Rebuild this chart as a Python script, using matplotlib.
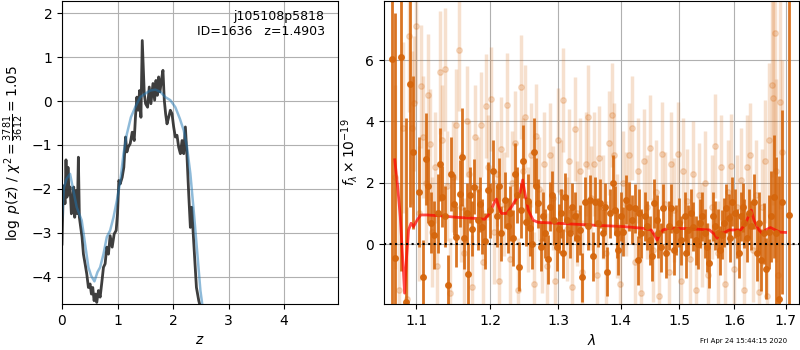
import numpy as np
import matplotlib
matplotlib.use('Agg')
import matplotlib.pyplot as plt

# --- p(z) panel ---
z_pz = [0.000, 0.018, 0.036, 0.054, 0.072, 0.090, 0.108, 0.127, 0.145, 0.169,
        0.193, 0.211, 0.229, 0.253, 0.277, 0.295, 0.313, 0.337, 0.361, 0.386,
        0.416, 0.446, 0.476, 0.506, 0.530, 0.554, 0.578, 0.602, 0.626, 0.657,
        0.687, 0.717, 0.747, 0.777, 0.807, 0.837, 0.867, 0.904, 0.940, 0.976,
        1.000, 1.024, 1.048, 1.084, 1.114, 1.145, 1.169, 1.193, 1.229, 1.265,
        1.301, 1.325, 1.349, 1.373, 1.398, 1.422, 1.446, 1.482, 1.506, 1.542,
        1.572, 1.602, 1.639, 1.669, 1.693, 1.717, 1.741, 1.765, 1.795, 1.819,
        1.843, 1.867, 1.892, 1.922, 1.952, 1.982, 2.012, 2.042, 2.072, 2.102,
        2.133, 2.163, 2.193, 2.223, 2.253, 2.283, 2.313, 2.337, 2.361, 2.386,
        2.422, 2.464, 2.494, 2.524]
logp = [-3.26, -2.27, -1.93, -2.34, -1.34, -2.19, -1.51, -2.12, -1.96, -2.57,
        -2.27, -1.96, -2.65, -2.04, -2.57, -1.28, -2.65, -2.88, -3.10, -3.49,
        -3.71, -3.94, -4.25, -4.17, -4.40, -4.25, -4.55, -4.40, -4.59, -4.32,
        -4.47, -4.14, -3.79, -3.71, -3.33, -3.49, -3.07, -3.33, -3.03, -2.95,
        -2.57, -1.81, -1.89, -1.74, -1.51, -0.82, -1.16, -1.05, -0.97, -0.71,
        -0.90, -0.33, 0.09, -0.21, 0.24, -0.37, 1.38, 0.17, -0.06, -0.14,
        0.32, -0.06, 0.40, 0.02, 0.47, 0.13, 0.55, 0.21, 0.51, 0.70,
        0.02, -0.29, -0.52, -0.37, -0.21, -0.29, -0.59, -0.82, -0.78, -1.05,
        -1.20, -0.90, -1.20, -0.59, -1.28, -2.12, -2.88, -2.42, -2.95, -3.49,
        -4.25, -4.55, -4.70, -4.90]

z_smooth = [0.000, 0.036, 0.084, 0.145, 0.205, 0.265, 0.355, 0.416, 0.476, 0.524,
            0.584, 0.639, 0.687, 0.747, 0.807, 0.867, 0.928, 0.988, 1.048, 1.108,
            1.169, 1.241, 1.319, 1.410, 1.500, 1.590, 1.681, 1.771, 1.861, 1.952,
            2.042, 2.123, 2.193, 2.253, 2.313, 2.373, 2.434, 2.494, 2.542]
logp_smooth = [-2.65, -1.96, -1.77, -1.66, -2.04, -2.42, -2.72, -3.26, -3.79, -3.98,
               -4.11, -3.90, -3.79, -3.49, -3.10, -2.95, -2.65, -2.27, -1.85, -1.20,
               -0.75, -0.37, -0.14, 0.09, 0.17, 0.24, 0.26, 0.21, 0.09, 0.02,
               -0.14, -0.40, -0.67, -1.05, -1.66, -2.50, -3.41, -4.32, -4.78]

chi2_num, chi2_den, chi2_red = 3781, 3612, 1.05
root, obj_id, z_best = 'j105108p5818', 1636, 1.4903

# --- spectrum panel ---
# dark points: (wavelength micron, flux, error)
wave_a = [1.069, 1.073, 1.080, 1.086, 1.092, 1.095, 1.104, 1.108, 1.112, 1.119,
          1.128, 1.134, 1.142, 1.146, 1.153, 1.158, 1.161, 1.167, 1.169, 1.175,
          1.178, 1.183, 1.188, 1.197, 1.204, 1.209, 1.216, 1.221, 1.228, 1.233,
          1.236, 1.241, 1.245, 1.248, 1.252, 1.257, 1.264, 1.270, 1.274, 1.280,
          1.287, 1.294, 1.299, 1.305, 1.311, 1.318, 1.326, 1.334, 1.337, 1.342,
          1.350, 1.358, 1.366, 1.371, 1.377, 1.382, 1.387, 1.393, 1.400, 1.409,
          1.414, 1.423, 1.428, 1.434, 1.441, 1.448, 1.456, 1.463, 1.471, 1.477,
          1.486, 1.494, 1.503, 1.509, 1.516, 1.524, 1.530, 1.537, 1.545, 1.554,
          1.560, 1.569, 1.578, 1.584, 1.590, 1.596, 1.606, 1.612, 1.619, 1.628,
          1.638, 1.644, 1.651, 1.657, 1.667, 1.676, 1.680, 1.686, 1.692, 1.706,
          1.115, 1.123, 1.131, 1.138, 1.150, 1.164, 1.172, 1.186, 1.192, 1.200,
          1.212, 1.225, 1.238, 1.254, 1.261, 1.267, 1.277, 1.284, 1.291, 1.302,
          1.308, 1.314, 1.322, 1.330, 1.346, 1.354, 1.362, 1.374, 1.390, 1.396,
          1.404, 1.418, 1.431, 1.444, 1.452, 1.460, 1.467, 1.481, 1.490, 1.499,
          1.512, 1.520, 1.534, 1.541, 1.549, 1.564, 1.573, 1.581, 1.593, 1.602,
          1.609, 1.616, 1.624, 1.633, 1.647, 1.662, 1.671]
flux_a = [6.03, -0.45, 6.12, -1.90, 5.22, 3.00, 1.70, -1.07, 2.77, 0.70,
          1.00, 1.55, -1.34, 2.29, 0.24, 1.65, 2.85, 1.00, -0.98, 0.50,
          1.87, 0.80, 0.57, 1.77, 2.40, 0.90, 0.35, 1.44, 1.00, 0.20,
          2.30, -0.74, 1.10, 2.70, 0.73, 0.51, 3.00, 1.33, -0.09, 0.35,
          1.22, 0.78, -0.09, 1.00, 1.53, 0.35, 0.90, 0.46, -1.09, 1.38,
          1.44, 1.38, 1.33, 0.35, -0.90, 1.00, 2.00, 0.35, 0.90, 1.44,
          1.22, 1.17, -0.52, 0.35, 0.90, 0.13, 1.33, 0.35, 1.17, -0.30,
          1.17, 0.46, 0.13, 0.90, 0.46, 0.57, 0.13, 0.68, 0.35, -0.63,
          0.90, 0.35, 0.30, 1.17, 0.84, 1.38, 0.35, 0.90, 0.68, 1.00,
          1.38, -0.30, -0.52, 0.35, 0.40, 1.55, 0.35, -1.78, 1.38, 0.94,
          1.9, 0.3, 2.6, 0.9, 1.3, 0.2, 1.6, 1.3, 0.1, 1.1,
          1.9, 0.6, 1.6, 1.4, 0.0, 1.9, 0.9, -0.5, 1.6, 0.5,
          -0.3, 0.8, 1.2, 0.2, 0.6, -0.4, 0.7, 1.2, 1.1, -0.2,
          0.4, 0.8, 1.0, 0.6, -0.4, 0.8, -0.1, 0.6, -0.2, 0.7,
          -0.3, 1.0, 0.0, 0.9, -0.1, 0.6, -0.2, 0.7, 0.2, 1.0,
          -0.3, 1.2, 0.2, 0.6, 0.7, -0.8, 0.9]
err_a = [8.0, 8.0, 7.0, 6.0, 4.0, 2.5, 1.8, 1.2, 1.5, 1.0,
         1.3, 1.0, 1.0, 1.2, 1.0, 1.1, 1.6, 1.0, 1.0, 0.9,
         0.9, 1.0, 0.9, 0.9, 1.0, 1.0, 0.9, 0.9, 0.9, 0.9,
         1.0, 0.8, 0.9, 1.2, 0.8, 0.9, 1.1, 0.8, 0.8, 0.8,
         0.8, 0.8, 0.8, 0.8, 0.8, 0.8, 0.8, 0.8, 0.8, 0.8,
         0.8, 0.8, 0.8, 0.8, 0.8, 0.8, 0.9, 0.8, 0.8, 0.8,
         0.8, 0.8, 0.8, 0.8, 0.8, 0.8, 0.8, 0.8, 0.8, 0.8,
         0.8, 0.8, 0.8, 0.8, 0.8, 0.8, 0.8, 0.8, 0.8, 0.8,
         0.8, 0.8, 0.8, 0.8, 0.8, 0.8, 0.8, 0.8, 0.8, 0.8,
         0.9, 0.9, 1.0, 1.0, 1.2, 2.0, 2.5, 4.0, 3.0, 9.0,
         1.2, 1.1, 1.2, 1.0, 1.0, 1.0, 0.9, 0.9, 0.9, 0.9,
         0.9, 0.9, 0.9, 0.9, 0.8, 0.9, 0.8, 0.8, 0.8, 0.8,
         0.8, 0.8, 0.8, 0.8, 0.8, 0.8, 0.8, 0.8, 0.8, 0.8,
         0.8, 0.8, 0.8, 0.8, 0.8, 0.8, 0.8, 0.8, 0.8, 0.8,
         0.8, 0.8, 0.8, 0.8, 0.8, 0.8, 0.8, 0.8, 0.8, 0.8,
         0.8, 0.8, 0.8, 0.8, 1.0, 1.0, 1.5]

# light points: second beam
wave_b = [1.072, 1.078, 1.083, 1.088, 1.091, 1.094, 1.097, 1.100, 1.103, 1.106,
          1.109, 1.112, 1.115, 1.118, 1.121, 1.124, 1.127, 1.131, 1.134, 1.138,
          1.141, 1.145, 1.149, 1.153, 1.157, 1.160, 1.164, 1.168, 1.171, 1.175,
          1.179, 1.183, 1.187, 1.190, 1.194, 1.197, 1.201, 1.205, 1.209, 1.213,
          1.216, 1.220, 1.224, 1.228, 1.232, 1.236, 1.240, 1.244, 1.247, 1.251,
          1.255, 1.259, 1.263, 1.267, 1.271, 1.275, 1.279, 1.283, 1.287, 1.292,
          1.296, 1.300, 1.304, 1.308, 1.313, 1.317, 1.321, 1.326, 1.330, 1.334,
          1.338, 1.343, 1.347, 1.352, 1.356, 1.361, 1.365, 1.370, 1.375, 1.380,
          1.385, 1.389, 1.394, 1.399, 1.404, 1.409, 1.414, 1.419, 1.424, 1.429,
          1.434, 1.439, 1.444, 1.449, 1.454, 1.459, 1.465, 1.470, 1.475, 1.481,
          1.486, 1.491, 1.497, 1.502, 1.507, 1.513, 1.518, 1.524, 1.530, 1.535,
          1.541, 1.546, 1.552, 1.558, 1.564, 1.570, 1.576, 1.582, 1.588, 1.594,
          1.600, 1.606, 1.612, 1.618, 1.624, 1.630, 1.636, 1.642, 1.648, 1.654,
          1.660, 1.664, 1.668, 1.672, 1.675, 1.678, 1.681, 1.684, 1.688, 1.692]
flux_b = [2.2, -1.5, 3.8, -1.8, 6.8, 3.8, 4.6, 7.1, 1.0, 5.15,
          3.5, 2.0, 4.87, 3.25, 0.4, 2.5, -0.7, 5.6, 3.4, 5.7,
          1.9, -1.6, 2.2, 3.9, 6.34, 1.2, -0.3, 4.0, 2.3, -1.4,
          3.5, 1.8, 3.9, -0.6, 4.5, 2.5, 4.73, 0.4, 2.3, -1.2,
          3.1, 1.3, 4.53, -0.5, 2.0, 3.3, -1.5, 5.12, 2.4, 4.14,
          0.8, 2.9, -1.3, 3.53, 1.8, 0.1, 2.6, -0.7, 2.9, 1.5,
          -1.2, 3.4, 1.7, 4.7, 0.5, 2.7, -1.4, 3.75, 1.0, 2.4,
          -0.9, 2.6, 4.14, 1.5, 2.6, -1.0, 2.8, 1.2, -0.3, 3.3,
          4.2, 2.9, 0.6, -1.3, 2.0, 1.3, 2.9, 3.78, -0.6, 2.4,
          -1.6, 2.7, 1.2, 3.15, -0.2, 1.7, -1.7, 2.94, 1.3, -0.9,
          2.6, 1.1, 2.95, -1.2, 2.4, 1.4, -0.5, 2.3, -1.5, 1.6,
          0.3, 2.0, -1.0, 1.2, 3.2, -0.3, 2.5, -1.3, 1.7, 2.55,
          -0.8, 1.2, 2.1, -1.5, 2.5, 2.9, -0.2, 1.6, -1.55, 1.2,
          2.7, -1.7, 3.4, 5.19, 4.76, 6.88, 2.4, -1.0, 4.64, 3.0]
err_b = [3.0, 3.5, 2.8, 3.0, 2.5, 2.5, 2.2, 2.5, 2.2, 2.0,
         2.0, 2.0, 2.0, 1.8, 1.8, 1.8, 1.8, 2.0, 1.8, 2.0,
         1.8, 1.8, 1.8, 1.8, 2.0, 1.8, 1.8, 1.8, 1.7, 1.7] + [1.7] * 97 + \
        [1.8, 1.8, 1.9, 2.0, 2.0, 2.5, 3.0, 3.5, 4.0, 3.0, 3.0, 3.5, 3.0]

# best-fit model
wave_m = [1.0723, 1.0760, 1.0793, 1.0825, 1.0848, 1.0871, 1.0899, 1.0931, 1.0963, 1.1009,
          1.1055, 1.1138, 1.1323, 1.1553, 1.1783, 1.1922, 1.1991, 1.2054, 1.2088, 1.2122,
          1.2161, 1.2234, 1.2307, 1.2380, 1.2429, 1.2468, 1.2502, 1.2551, 1.2624, 1.2698,
          1.2990, 1.3522, 1.4053, 1.4394, 1.4509, 1.4566, 1.4611, 1.4651, 1.4709, 1.4823,
          1.5211, 1.5542, 1.5633, 1.5681, 1.5723, 1.5813, 1.5904, 1.6122, 1.6218, 1.6282,
          1.6327, 1.6378, 1.6474, 1.6538, 1.6603, 1.6699, 1.6795, 1.6891, 1.7000]
flux_m = [2.75, 1.87, 0.89, -0.52, -1.60, -0.52, 0.46, 0.68, 0.57, 0.78,
          0.95, 0.95, 0.92, 0.87, 0.84, 0.81, 1.00, 1.33, 1.47, 1.22,
          1.00, 1.00, 1.22, 1.49, 1.66, 2.09, 1.66, 1.11, 0.78, 0.71,
          0.68, 0.62, 0.57, 0.51, 0.46, 0.29, 0.13, 0.29, 0.46, 0.52,
          0.50, 0.46, 0.32, 0.19, 0.35, 0.37, 0.46, 0.46, 0.68, 0.95,
          1.11, 0.78, 0.46, 0.35, 0.46, 0.54, 0.46, 0.39, 0.38]

timestamp = 'Fri Apr 24 15:44:15 2020'

orange = '#d5660c'

fig = plt.figure(figsize=(8, 3.5), dpi=100)
ax1 = fig.add_axes([0.0775, 0.131, 0.3455, 0.866])
ax2 = fig.add_axes([0.480, 0.131, 0.519, 0.866])

ax1.plot(z_pz, logp, color='0.2', lw=2, alpha=0.95)
ax1.plot(z_smooth, logp_smooth, color='#1f77b4', lw=1.8, alpha=0.5)
ax1.set_xlim(0, 4.98)
ax1.set_ylim(-4.63, 2.28)
ax1.set_xticks([0, 1, 2, 3, 4])
ax1.set_xlabel(r'$z$')
ax1.set_ylabel(r'$\log\ p(z)$' + ' / ' +
               r'$\chi^2=\frac{%d}{%d}=%.2f$' % (chi2_num, chi2_den, chi2_red))
ax1.text(0.95, 0.97, '%s\nID=%d   z=%.4f' % (root, obj_id, z_best),
         ha='right', va='top', transform=ax1.transAxes, fontsize=9)
ax1.grid()

ax2.errorbar(wave_b, flux_b, yerr=err_b, color=orange, alpha=0.2,
             marker='o', ms=4, ls='none', elinewidth=2.5)
ax2.errorbar(wave_a, flux_a, yerr=err_a, color=orange, alpha=0.9,
             marker='o', ms=4, ls='none', elinewidth=2)
ax2.plot(wave_m, flux_m, color='red', lw=2, alpha=0.7)
ax2.axhline(0, color='k', ls=':', lw=1.5)
ax2.set_xscale('log')
ax2.set_xlim(1.0588, 1.7275)
ax2.set_ylim(-1.96, 7.93)
ax2.set_xticks([1.1, 1.2, 1.3, 1.4, 1.5, 1.6, 1.7])
ax2.set_xticklabels(['1.1', '1.2', '1.3', '1.4', '1.5', '1.6', '1.7'])
ax2.xaxis.set_minor_locator(matplotlib.ticker.NullLocator())
ax2.set_yticks([0, 2, 4, 6])
ax2.set_xlabel(r'$\lambda$')
ax2.set_ylabel(r'$f_\lambda\times10^{-19}$')
ax2.grid()

fig.text(0.93, 0.027, timestamp, ha='center', va='center', fontsize=5)

plt.savefig('out.png', dpi=100)
